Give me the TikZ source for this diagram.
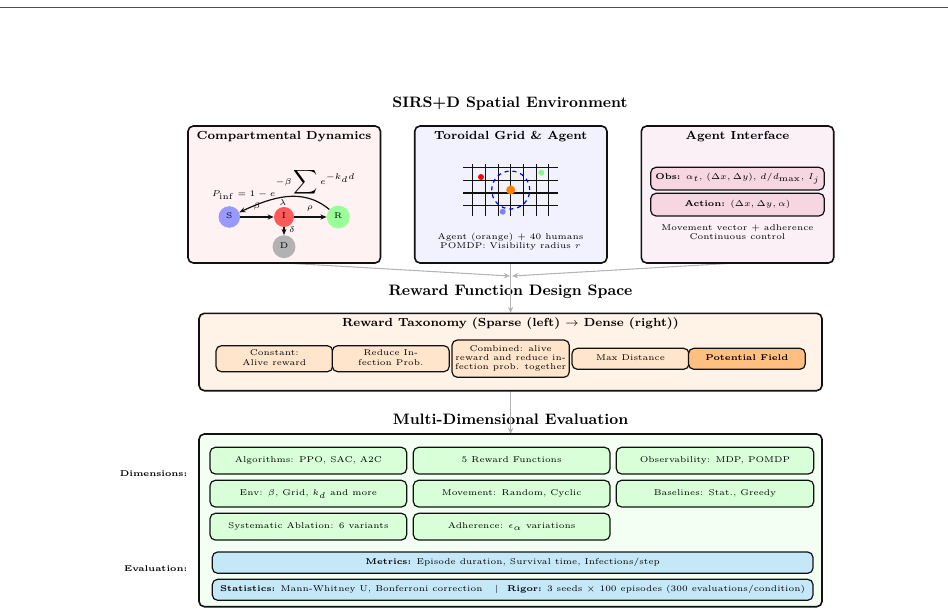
\documentclass[tikz,border=0pt]{standalone}
\usetikzlibrary{arrows.meta}
\definecolor{inkdark}{HTML}{111111}
\definecolor{flowgrey}{HTML}{B4B4B4}
\definecolor{panelred}{HTML}{FFF2F2}
\definecolor{panelblue}{HTML}{F2F2FF}
\definecolor{panelpink}{HTML}{FBF0F5}
\definecolor{chippink}{HTML}{F5D6E1}
\definecolor{panelorange}{HTML}{FFF2E6}
\definecolor{choporange}{HTML}{FFE5CC}
\definecolor{chopstrong}{HTML}{FFBF80}
\definecolor{panelgreen}{HTML}{F2FFF2}
\definecolor{chipgreen}{HTML}{D9FFD9}
\definecolor{chipblue}{HTML}{C5E8F8}
% Type is set at its design size and enlarged as a whole, lines centred.
\newcommand{\setsize}[2]{\scalebox{1.26}{\fontsize{#1}{1.08\dimexpr #1pt\relax}\selectfont\def\arraystretch{1}\begin{tabular}{@{}c@{}}#2\end{tabular}}}
\newcommand{\sm}[1]{\setsize{5}{#1}}
% Boxes are given by their corner coordinates; one unit of the picture is 0.75pt.
\newcommand{\cornerbox}[6]{%
  \node[#1, minimum width={(#4-#2)*0.75pt}, minimum height={(#5-#3)*0.75pt}]
    at ({(#2+#4)/2},{(#3+#5)/2}) #6;}
\tikzset{
  panel/.style={draw=inkdark, line width=1.2pt, rounded corners=4pt, inner sep=0pt},
  chip/.style={draw=inkdark, line width=0.9pt, rounded corners=4pt, inner sep=0pt},
  bare/.style={inner sep=0pt},
  state/.style={circle, inner sep=0pt},
  trans/.style={-{Stealth[length=4.6pt,width=3.8pt]}, line width=0.9pt, draw=inkdark},
  flow/.style={-{Stealth[length=4.6pt,width=4pt]}, draw=flowgrey, line width=0.8pt},
  gridline/.style={draw=inkdark, line width=0.9pt},
  person/.style={circle, inner sep=0pt, minimum size=#1*0.75pt}
}
\begin{document}
\begin{tikzpicture}[x=0.75pt,y=-0.75pt]
\useasboundingbox (0,0) rectangle (948,614);
\draw[draw=black!70, line width=0.5pt] (0,7) -- (948,7);

% Section headings
\node[bare] (headEnv) at (510,104) {\setsize{9}{\bfseries SIRS+D Spatial Environment}};
\node[bare] (headReward) at (510.5,292.5) {\setsize{9}{\bfseries Reward Function Design Space}};
\node[bare] (headEval) at (510.5,421) {\setsize{9}{\bfseries Multi-Dimensional Evaluation}};

% Connectors sit behind the panels
\coordinate (joinL) at (510,276);
\coordinate (joinR) at (512,276);
\coordinate (outL) at (284,263);
\coordinate (outR) at (737,263);
\coordinate (outM) at (510.6,263);
\coordinate (inR) at (510.6,313);
\coordinate (outE) at (510.6,390);
\coordinate (inE) at (510.6,434);
\draw[flow] (outL) -- (joinL);
\draw[flow] (outR) -- (joinR);
\draw[flow] (outM) -- (inR);
\draw[flow] (outE) -- (inE);

% Top row of panels
\cornerbox{panel, fill=panelred, name=panelDyn}{188}{126}{380.5}{263}{{}}
\cornerbox{panel, fill=panelblue, name=panelGrid}{414.7}{126}{607}{263}{{}}
\cornerbox{panel, fill=panelpink, name=panelAgent}{641.3}{126}{833.7}{263}{{}}
\node[bare] (titleDyn) at (284,136.5) {\setsize{7}{\bfseries Compartmental Dynamics}};
\node[bare] (titleGrid) at (510.7,136.5) {\setsize{7}{\bfseries Toroidal Grid \& Agent}};
\node[bare] (titleAgent) at (737.5,136.5) {\setsize{7}{\bfseries Agent Interface}};

% Compartment model
\node[bare] (formula) at (284,184) {\sm{$P_{\mathrm{inf}} = 1 - e^{-\beta \displaystyle\sum e^{-k_d d}}$}};
\node[state, fill=blue!40, minimum size=16.2pt] (S) at (229.3,217) {\sm{S}};
\node[state, fill=red!65, minimum size=15pt] (I) at (284,217) {\sm{I}};
\node[state, fill=green!40, minimum size=17.2pt] (R) at (338.3,217) {\sm{R}};
\node[state, fill=black!30, minimum size=17.2pt] (D) at (284,246.7) {\sm{D}};
\draw[trans] (S) -- (I);
\draw[trans] (I) -- (R);
\draw[trans] (I) -- (D);
\draw[trans] (R) to[out=140,in=25] (S);
\node[bare] (lblBeta) at (257,207) {\sm{$\beta$}};
\node[bare] (lblLambda) at (283,204) {\sm{$\lambda$}};
\node[bare] (lblRho) at (310,208) {\sm{$\rho$}};
\node[bare] (lblDelta) at (292,231) {\sm{$\delta$}};

% Grid with agent, humans and visibility radius
\foreach \gx in {472.7,485.4,498.1,510.7,523.4,536.1,548.7} \draw[gridline] (\gx,164) -- (\gx,216);
\foreach \gy in {167.7,180.5,193,205.7} \draw[gridline] (463.3,\gy) -- (558.3,\gy);
\node[draw=blue, dashed, line width=0.9pt, circle, minimum size=28.5pt, inner sep=0pt] (vis) at (510.7,190) {};
\node[person=9, fill=orange] (agent) at (510.7,190) {};
\node[person=6, fill=red] (humanA) at (481,177) {};
\node[person=6, fill=green!50] (humanB) at (541.3,172.7) {};
\node[person=6, fill=blue!50] (humanC) at (502.7,211.7) {};
\node[bare] (gridNote) at (510.5,242) {\sm{Agent (orange) + 40 humans\\POMDP: Visibility radius $r$}};

% Agent interface
\cornerbox{chip, fill=chippink, name=chipObs}{650.7}{167.3}{824.3}{190}{{\sm{\textbf{Obs:} $\alpha_t$, $(\Delta x, \Delta y)$, $d/d_{\max}$, $I_j$}}}
\cornerbox{chip, fill=chippink, name=chipAct}{650.7}{193.3}{824.3}{216}{{\sm{\textbf{Action:} $(\Delta x, \Delta y, \alpha)$}}}
\node[bare] (agentNote) at (737.5,233.3) {\sm{Movement vector + adherence\\Continuous control}};

% Reward taxonomy
\cornerbox{panel, fill=panelorange, name=panelReward}{199}{313.3}{822}{390.7}{{}}
\node[bare] (titleReward) at (510.5,323.7) {\setsize{7}{\bfseries Reward Taxonomy (Sparse (left) $\rightarrow$ Dense (right))}};
\cornerbox{chip, fill=choporange, name=rwConst}{216}{345.7}{332.7}{371.7}{{\sm{Constant:\\Alive reward}}}
\cornerbox{chip, fill=choporange, name=rwReduce}{332.3}{345.7}{449.3}{371.7}{{\sm{Reduce In-\\fection Prob.}}}
\cornerbox{chip, fill=choporange, name=rwCombined}{452}{340}{569.3}{377.3}{{\sm{Combined: alive\\reward and reduce in-\\fection prob. together}}}
\cornerbox{chip, fill=choporange, name=rwMax}{572}{348.3}{689}{369.3}{{\sm{Max Distance}}}
\cornerbox{chip, fill=chopstrong, name=rwField}{688.5}{348.3}{805.3}{369.3}{{\sm{\textbf{Potential Field}}}}

% Evaluation panel
\cornerbox{panel, fill=panelgreen, name=panelEval}{199}{434}{822}{606.7}{{}}
\node[bare, anchor=east] (lblDim) at (187.5,475) {\sm{\textbf{Dimensions:}}};
\node[bare, anchor=east] (lblEval) at (187.5,570) {\sm{\textbf{Evaluation:}}};
\cornerbox{chip, fill=chipgreen, name=dimA}{210}{447.3}{406.7}{474}{{\sm{Algorithms: PPO, SAC, A2C}}}
\cornerbox{chip, fill=chipgreen, name=dimB}{413.3}{447.3}{610}{474}{{\sm{5 Reward Functions}}}
\cornerbox{chip, fill=chipgreen, name=dimC}{616.3}{447.3}{813.7}{474}{{\sm{Observability: MDP, POMDP}}}
\cornerbox{chip, fill=chipgreen, name=dimD}{210}{480.3}{406.7}{507}{{\sm{Env: $\beta$, Grid, $k_d$ and more}}}
\cornerbox{chip, fill=chipgreen, name=dimE}{413.3}{480.3}{610}{507}{{\sm{Movement: Random, Cyclic}}}
\cornerbox{chip, fill=chipgreen, name=dimF}{616.3}{480.3}{813.7}{507}{{\sm{Baselines: Stat., Greedy}}}
\cornerbox{chip, fill=chipgreen, name=dimG}{210}{513.3}{406.7}{540}{{\sm{Systematic Ablation: 6 variants}}}
\cornerbox{chip, fill=chipgreen, name=dimH}{413.3}{513.3}{610}{540}{{\sm{Adherence: $\epsilon_\alpha$ variations}}}
\cornerbox{chip, fill=chipblue, name=evMetrics}{212.3}{552}{813}{573.3}{{\sm{\textbf{Metrics:} Episode duration, Survival time, Infections/step}}}
\cornerbox{chip, fill=chipblue, name=evStats}{212.3}{579.3}{813}{600.3}{{\sm{\textbf{Statistics:} Mann-Whitney U, Bonferroni correction \quad$|$\quad \textbf{Rigor:} 3 seeds $\times$ 100 episodes (300 evaluations/condition)}}}
\end{tikzpicture}
\end{document}
